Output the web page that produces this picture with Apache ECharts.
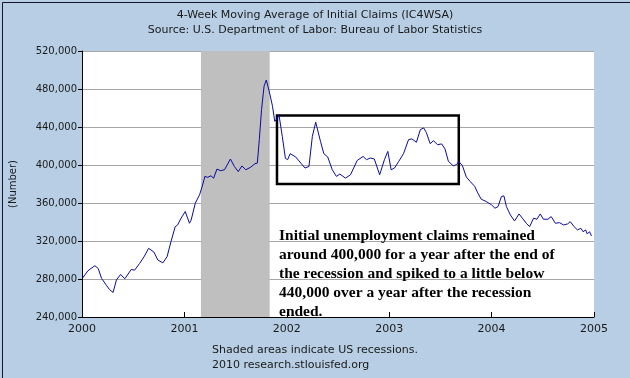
<!DOCTYPE html>
<html>
<head>
<meta charset="utf-8">
<script src="https://cdn.jsdelivr.net/npm/echarts@6/dist/echarts.min.js"></script>
<style>
  html, body { margin: 0; padding: 0; }
  #chart { width: 630px; height: 378px; }
</style>
</head>
<body>
<div id="chart"></div>
<script>
// weekly 4-week moving average of initial claims
const weeks = [
  '2000-01-03','2000-01-22','2000-02-16','2000-02-28','2000-03-11','2000-03-28','2000-04-08','2000-04-21',
  '2000-05-03','2000-05-18','2000-06-02','2000-06-25','2000-07-07','2000-07-25','2000-08-11','2000-08-26',
  '2000-09-14','2000-09-28','2000-10-16','2000-10-31','2000-11-14','2000-11-29','2000-12-08','2000-12-20',
  '2001-01-04','2001-01-19','2001-01-25','2001-02-09','2001-02-24','2001-03-07','2001-03-15','2001-03-25',
  '2001-04-06','2001-04-15','2001-04-27','2001-05-10','2001-05-24','2001-06-14','2001-06-28','2001-07-12',
  '2001-07-25','2001-08-08','2001-08-26','2001-09-09','2001-09-18','2001-09-25','2001-10-03','2001-10-12',
  '2001-10-20','2001-10-30','2001-11-11','2001-11-19','2001-11-28','2001-12-04','2001-12-16','2001-12-27',
  '2002-01-04','2002-01-13','2002-02-02','2002-02-20','2002-03-07','2002-03-21','2002-04-02','2002-04-14',
  '2002-04-20','2002-05-01','2002-05-13','2002-05-27','2002-06-12','2002-06-27','2002-07-09','2002-07-29',
  '2002-08-16','2002-09-09','2002-09-30','2002-10-12','2002-10-26','2002-11-09','2002-11-28','2002-12-15',
  '2002-12-27','2003-01-08','2003-01-20','2003-02-04','2003-02-21','2003-03-11','2003-03-23','2003-04-08',
  '2003-04-22','2003-05-04','2003-05-13','2003-05-27','2003-06-08','2003-06-22','2003-07-07','2003-07-19',
  '2003-07-31','2003-08-17','2003-08-29','2003-09-06','2003-09-19','2003-10-03','2003-10-17','2003-11-02',
  '2003-11-13','2003-11-25','2003-12-13','2004-01-01','2004-01-13','2004-01-24','2004-02-05','2004-02-14',
  '2004-02-23','2004-03-08','2004-03-23','2004-04-08','2004-04-20','2004-05-04','2004-05-16','2004-05-30',
  '2004-06-11','2004-06-23','2004-07-04','2004-07-20','2004-08-01','2004-08-16','2004-08-31','2004-09-14',
  '2004-09-29','2004-10-08','2004-10-22','2004-11-03','2004-11-15','2004-11-23','2004-12-02','2004-12-08',
  '2004-12-16','2004-12-23'
];
const claims = [
  281000,288600,294000,291000,280600,273500,269000,265800,
  279000,284800,280200,290000,289300,296400,304000,312300,
  308400,300000,297000,303400,319300,335000,337000,344000,
  351000,338700,342000,360000,368600,379000,388000,387000,
  388700,386000,395700,394000,395000,406300,398500,393000,
  399000,395000,397800,401300,402000,426700,458400,483000,
  489500,478000,461900,446000,449000,453000,430000,407000,
  405600,411900,408400,402000,396800,398500,430000,445000,
  444300,425000,411900,408400,395000,388000,390500,386200,
  389700,404800,409000,405600,407400,406300,389700,405600,
  414300,395000,396800,403800,411900,426700,427500,423900,
  437300,439000,434400,422500,425600,421400,422200,416900,
  403800,399200,400300,403800,399200,387300,382600,377400,
  370400,364000,361500,358000,354500,356200,366800,367500,
  356200,347500,341100,348500,344000,338700,335100,344000,
  342900,348500,342900,342900,345700,338700,339300,336900,
  338000,340400,335100,331600,333400,329800,331600,327400,
  329800,325300
];
const yearTicks = [2000, 2001, 2002, 2003, 2004, 2005];
const recession = ['2001-03-01', '2001-11-01'];
const boxDates = ['2001-11-27', '2003-09-06'];
const boxRange = [380000, 452000];
const note = [
  'Initial unemployment claims remained',
  'around 400,000 for a year after the end of',
  'the recession and spiked to a little below',
  '440,000 over a year after the recession',
  'ended.'
];

function toYear(s) {
  const [y, m, d] = s.split('-').map(Number);
  const start = Date.UTC(y, 0, 1), end = Date.UTC(y + 1, 0, 1);
  return y + (Date.UTC(y, m - 1, d) - start) / (end - start);
}

const chart = echarts.init(document.getElementById('chart'));
const font = 'DejaVu Sans';

var option = {
  backgroundColor: '#b7cee5',
  animation: false,
  title: {
    text: '4-Week Moving Average of Initial Claims (IC4WSA)\nSource: U.S. Department of Labor: Bureau of Labor Statistics',
    left: 'center',
    top: 3,
    textStyle: { fontFamily: font, fontSize: 11, fontWeight: 'normal', color: '#1a1a1a', lineHeight: 15 }
  },
  grid: {
    left: 80, top: 51, width: 514, height: 266,
    show: true, backgroundColor: '#ffffff', borderWidth: 0
  },
  xAxis: {
    type: 'value',
    min: yearTicks[0], max: yearTicks[yearTicks.length - 1], interval: 1,
    axisLine: { lineStyle: { color: '#000', width: 1 } },
    axisTick: { inside: true, length: 5, lineStyle: { color: '#000' } },
    axisLabel: { fontFamily: font, fontSize: 11, color: '#1a1a1a', margin: 7, formatter: v => String(v) },
    splitLine: { show: false }
  },
  yAxis: {
    type: 'value',
    min: 240000, max: 520000, interval: 40000,
    name: '(Number)',
    nameLocation: 'middle',
    nameGap: 64,
    nameTextStyle: { fontFamily: font, fontSize: 10, color: '#1a1a1a' },
    axisLine: { show: true, lineStyle: { color: '#000', width: 1 } },
    axisTick: { show: true, length: 4, lineStyle: { color: '#000' } },
    axisLabel: { fontFamily: font, fontSize: 10, color: '#1a1a1a', margin: 5,
      formatter: v => v.toLocaleString('en-US') },
    splitLine: { lineStyle: { color: '#a6a6a6', width: 1 } }
  },
  series: [{
    type: 'line',
    data: weeks.map((w, i) => [toYear(w), claims[i]]),
    showSymbol: false,
    lineStyle: { color: '#0b0b9a', width: 1 },
    z: 3,
    markArea: {
      silent: true,
      data: [
        [{ xAxis: toYear(recession[0]), itemStyle: { color: '#bfbfbf', opacity: 1 } }, { xAxis: toYear(recession[1]) }],
        [{ xAxis: toYear(boxDates[0]), yAxis: boxRange[0],
           itemStyle: { color: 'rgba(0,0,0,0)', borderColor: '#000', borderWidth: 2.5 } },
         { xAxis: toYear(boxDates[1]), yAxis: boxRange[1] }]
      ]
    }
  }],
  graphic: [
    {
      type: 'text', left: 279, top: 226, z: 10,
      style: { text: note.join('\n'), font: 'bold 15.5px "Liberation Serif"', fill: '#000', lineHeight: 19.2 }
    },
    {
      type: 'text', left: 'center', top: 343,
      style: { text: 'Shaded areas indicate US recessions.\n2010 research.stlouisfed.org',
        font: '11px "DejaVu Sans"', fill: '#1a1a1a', lineHeight: 15, align: 'center' }
    },
    {
      type: 'rect', left: 0, top: 0, z: 20, silent: true,
      shape: { x: 0, y: 0, width: 629, height: 377 },
      style: { fill: 'none', stroke: '#14142a', lineWidth: 1 }
    }
  ]
};

chart.setOption(option);
</script>
</body>
</html>
